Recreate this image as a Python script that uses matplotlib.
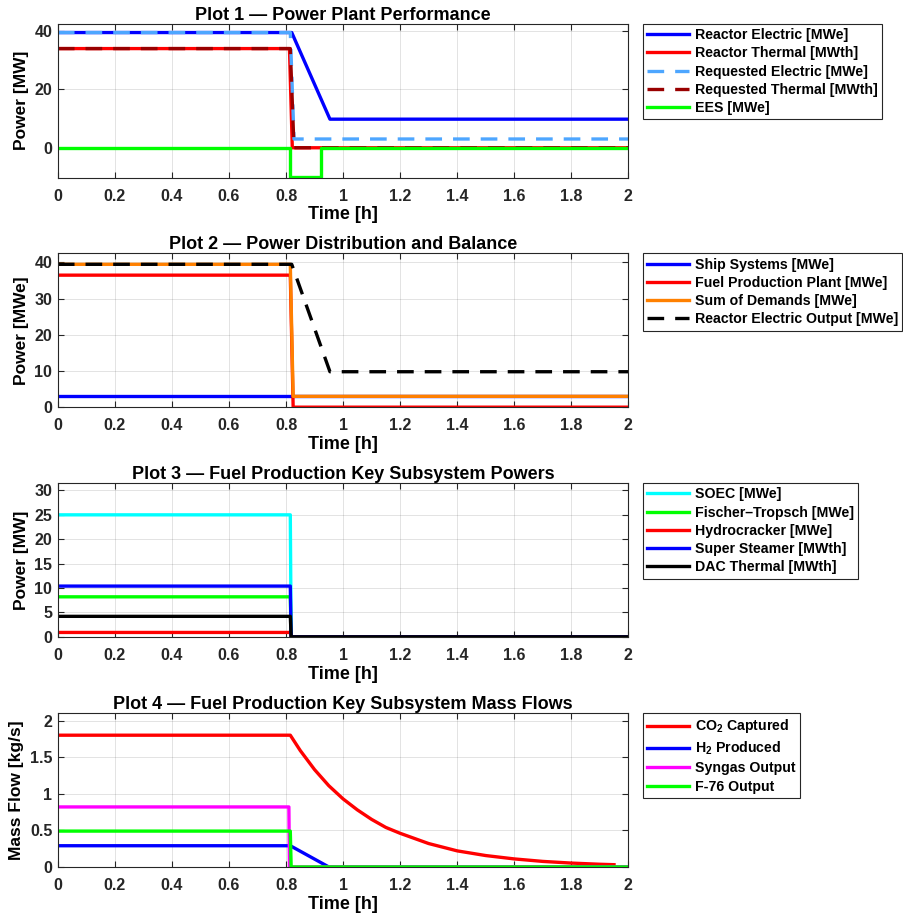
import numpy as np
import matplotlib
matplotlib.use("Agg")
import matplotlib.pyplot as plt
from matplotlib.ticker import FormatStrFormatter

plt.rcParams['font.family'] = ['Liberation Sans', 'DejaVu Sans']
plt.rcParams['font.weight'] = 'bold'
plt.rcParams['axes.labelweight'] = 'bold'
plt.rcParams['axes.titleweight'] = 'bold'
plt.rcParams['mathtext.fontset'] = 'custom'
plt.rcParams['mathtext.rm'] = 'Liberation Sans:bold'
plt.rcParams['mathtext.bf'] = 'Liberation Sans:bold'
plt.rcParams['axes.edgecolor'] = '#262626'
plt.rcParams['xtick.color'] = '#262626'
plt.rcParams['ytick.color'] = '#262626'

# ---- Plot 1: power plant performance
t_elec = [0, 0.82, 0.954, 2.0]
reactor_elec = [39.5, 39.5, 9.8, 9.8]
t_th = [0, 0.812, 0.822, 2.0]
reactor_th = [34.0, 34.0, 0.0, 0.0]
t_req = [0, 0.815, 0.828, 2.0]
req_elec = [39.5, 39.5, 3.0, 3.0]
req_th = [34.0, 34.0, 0.0, 0.0]
t_ees = [0, 0.813, 0.813, 0.921, 0.921, 2.0]
ees = [0, 0, -10, -10, 0, 0]

# ---- Plot 2: power distribution
t_dist = [0, 0.815, 0.825, 2.0]
ship = [3.0, 3.0, 3.0, 3.0]
fuel_plant = [36.5, 36.5, 0.0, 0.0]
sum_dem = [39.5, 39.5, 3.0, 3.0]
t_out = [0, 0.82, 0.954, 2.0]
reactor_out = [39.5, 39.5, 9.8, 9.8]

# ---- Plot 3: subsystem powers
t_sub = [0, 0.815, 0.818, 2.0]
soec = [25.0, 25.0, 0.0, 0.0]
ft = [8.2, 8.2, 0.0, 0.0]
hydro = [0.9, 0.9, 0.0, 0.0]
steamer = [10.4, 10.4, 0.0, 0.0]
dac = [4.2, 4.2, 0.0, 0.0]

# ---- Plot 4: mass flows
t_co2 = [0, 0.815, 0.85, 0.9, 0.95, 1.0, 1.05, 1.1, 1.15, 1.2, 1.3, 1.4,
         1.5, 1.6, 1.7, 1.8, 1.9, 1.95]
co2 = [1.80, 1.80, 1.59, 1.33, 1.11, 0.93, 0.78, 0.65, 0.54, 0.46, 0.32, 0.22,
       0.156, 0.11, 0.076, 0.053, 0.037, 0.031]
t_h2 = [0, 0.815, 0.95, 2.0]
h2 = [0.29, 0.29, 0.0, 0.0]
t_syn = [0, 0.81, 0.812, 2.0]
syngas = [0.82, 0.82, 0.0, 0.0]
t_f76 = [0, 0.815, 0.818, 2.0]
f76 = [0.49, 0.49, 0.0, 0.0]

lw = 2.4
dash = (5, 3.3)

fig = plt.figure(figsize=(9.04, 9.15), dpi=100)
L, W, H = 0.064, 0.631, 0.168
bottoms = [0.806, 0.555, 0.304, 0.0525]
axs = [fig.add_axes([L, b, W, H]) for b in bottoms]

ax = axs[0]
ax.plot(t_elec, reactor_elec, color='#0000FF', lw=lw, label='Reactor Electric [MWe]')
ax.plot(t_th, reactor_th, color='#FF0000', lw=lw, label='Reactor Thermal [MWth]')
ax.plot(t_req, req_elec, color='#4DA6FF', lw=lw, dashes=dash, label='Requested Electric [MWe]')
ax.plot(t_req, req_th, color='#990000', lw=lw, dashes=dash, label='Requested Thermal [MWth]')
ax.plot(t_ees, ees, color='#00FF00', lw=lw, label='EES [MWe]')
ax.set_ylim(-10.2, 42.5)
ax.set_yticks([0, 20, 40])
ax.set_ylabel('Power [MW]')
ax.set_title('Plot 1 — Power Plant Performance', pad=3)

ax = axs[1]
ax.plot(t_dist, ship, color='#0000FF', lw=lw, label='Ship Systems [MWe]')
ax.plot(t_dist, fuel_plant, color='#FF0000', lw=lw, label='Fuel Production Plant [MWe]')
ax.plot(t_dist, sum_dem, color='#FF8000', lw=lw, label='Sum of Demands [MWe]')
ax.plot(t_out, reactor_out, color='black', lw=lw, dashes=dash, label='Reactor Electric Output [MWe]')
ax.set_ylim(0, 42.5)
ax.set_yticks([0, 10, 20, 30, 40])
ax.set_ylabel('Power [MWe]')
ax.set_title('Plot 2 — Power Distribution and Balance', pad=3)

ax = axs[2]
ax.plot(t_sub, soec, color='#00FFFF', lw=lw, label='SOEC [MWe]')
ax.plot(t_sub, ft, color='#00FF00', lw=lw, label='Fischer–Tropsch [MWe]')
ax.plot(t_sub, hydro, color='#FF0000', lw=lw, label='Hydrocracker [MWe]')
ax.plot(t_sub, steamer, color='#0000FF', lw=lw, label='Super Steamer [MWth]')
ax.plot(t_sub, dac, color='black', lw=lw, label='DAC Thermal [MWth]')
ax.set_ylim(0, 31.5)
ax.set_yticks(np.arange(0, 31, 5))
ax.set_ylabel('Power [MW]')
ax.set_title('Plot 3 — Fuel Production Key Subsystem Powers', pad=3)

ax = axs[3]
ax.plot(t_co2, co2, color='#FF0000', lw=lw, label=r'CO$_{2}$ Captured')
ax.plot(t_h2, h2, color='#0000FF', lw=lw, label=r'H$_{2}$ Produced')
ax.plot(t_syn, syngas, color='#FF00FF', lw=lw, label='Syngas Output')
ax.plot(t_f76, f76, color='#00FF00', lw=lw, label='F-76 Output')
ax.set_ylim(0, 2.1)
ax.set_yticks([0, 0.5, 1, 1.5, 2])
ax.set_ylabel('Mass Flow [kg/s]')
ax.set_title('Plot 4 — Fuel Production Key Subsystem Mass Flows', pad=3)

for ax in axs:
    ax.set_xlim(0, 2)
    ax.set_xticks(np.arange(0, 2.01, 0.2))
    ax.xaxis.set_major_formatter(FormatStrFormatter('%g'))
    ax.yaxis.set_major_formatter(FormatStrFormatter('%g'))
    ax.grid(True, color='#262626', alpha=0.15, lw=0.6)
    ax.tick_params(direction='in', top=True, right=True, labelsize=11.5, length=4)
    ax.tick_params(axis='x', pad=8)
    ax.tick_params(axis='y', pad=4)
    ax.set_xlabel('Time [h]', fontsize=13, labelpad=2)
    ax.yaxis.label.set_size(12.5)
    ax.title.set_size(13)
    for s in ax.spines.values():
        s.set_linewidth(0.8)
    leg = ax.legend(loc='upper left', bbox_to_anchor=(1.025, 1.0), fontsize=10.2,
                    handlelength=3.0, fancybox=False, edgecolor='#262626',
                    framealpha=1, borderaxespad=0, labelspacing=0.3,
                    handletextpad=0.4, borderpad=0.3)
    leg.get_frame().set_linewidth(0.8)
    for txt in leg.get_texts():
        txt.set_fontweight('bold')

fig.savefig('out.png', dpi=100)
